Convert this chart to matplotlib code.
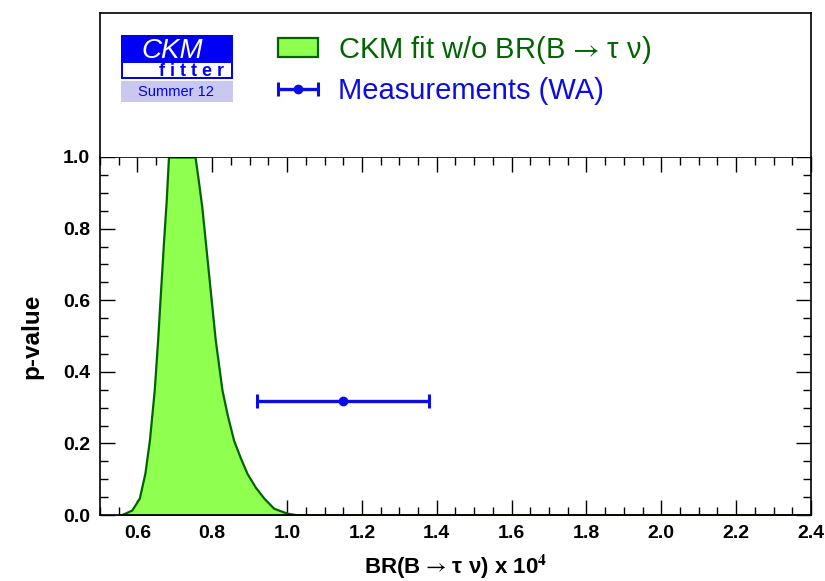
import matplotlib
matplotlib.use("Agg")
import matplotlib.pyplot as plt
from matplotlib.patches import Rectangle
from matplotlib.container import ErrorbarContainer
from matplotlib.legend_handler import HandlerErrorbar
from matplotlib.font_manager import FontProperties
from matplotlib.ticker import MultipleLocator

plt.rcParams['font.family'] = ['Liberation Sans', 'DejaVu Sans']
plt.rcParams['mathtext.fontset'] = 'stix'

# CKM fit p-value profile
br_fit = [0.55, 0.56, 0.585, 0.605, 0.62, 0.632, 0.645, 0.654, 0.662, 0.670,
          0.677, 0.683, 0.754, 0.762, 0.772, 0.790, 0.808, 0.826, 0.840, 0.857,
          0.875, 0.893, 0.915, 0.938, 0.964, 1.0, 1.03, 2.4]
pval_fit = [0.0, 0.002, 0.014, 0.047, 0.117, 0.209, 0.35, 0.489, 0.63, 0.768,
            0.88, 1.0, 1.0, 0.94, 0.861, 0.675, 0.489, 0.349, 0.28, 0.209,
            0.16, 0.116, 0.078, 0.047, 0.019, 0.005, 0.0, 0.0]

# world average measurement
meas_br = [1.15]
meas_err = [0.23]
meas_pval = [0.3173]

fit_label = r'CKM fit w/o BR(B$\,\rightarrow\,$τ ν)'
meas_label = 'Measurements (WA)'
x_label = r'BR(B$\,\rightarrow\,$τ ν) x 10$^{\mathbf{4}}$'

fill_col = '#8fff50'
line_col = '#006400'
blue = '#0c0ce8'
logo_blue = '#0000f5'

fig = plt.figure(figsize=(8.25, 5.81), dpi=100)
W, H = 825, 581
ax = fig.add_axes([100 / W, 66 / H, 711 / W, 358 / H])
top = fig.add_axes([100 / W, 424 / H, 711 / W, 144 / H])

fit = ax.fill_between(br_fit, pval_fit, color=fill_col, edgecolor=line_col,
                      linewidth=1.6, zorder=2)
meas = ax.errorbar(meas_br, meas_pval, xerr=meas_err, fmt='o', color=blue,
                   markersize=6, elinewidth=2.4, capsize=5, capthick=2.2,
                   zorder=3)

ax.set_xlim(0.5, 2.4)
ax.set_ylim(0, 1.0)
ax.xaxis.set_major_locator(MultipleLocator(0.2))
ax.xaxis.set_minor_locator(MultipleLocator(0.05))
ax.yaxis.set_major_locator(MultipleLocator(0.2))
ax.yaxis.set_minor_locator(MultipleLocator(0.05))
ax.tick_params(which='both', direction='in', top=True, right=True, width=1)
ax.tick_params(which='major', length=11, labelsize=14, pad=7)
ax.tick_params(which='minor', length=5.5)
ax.set_xticks(ax.get_xticks()[1:])
ax.set_xlim(0.5, 2.4)
for lab in ax.get_xticklabels() + ax.get_yticklabels():
    lab.set_fontweight('bold')
for s in ax.spines.values():
    s.set_linewidth(1.2)

ax.set_xlabel(x_label, fontsize=16, fontweight='bold', labelpad=8)
ax.set_ylabel('p-value', fontsize=17.5, fontweight='bold', labelpad=14)

# upper frame holding logo and legend (pixel coordinates)
top.set_xlim(100, 811)
top.set_ylim(157, 13)
top.set_xticks([])
top.set_yticks([])
top.spines['bottom'].set_visible(False)
for s in ['left', 'right', 'top']:
    top.spines[s].set_linewidth(1.2)

# CKMfitter logo
top.add_patch(Rectangle((121, 35), 112, 44, color=logo_blue, lw=0))
top.add_patch(Rectangle((123, 63), 108, 14, color='white', lw=0))
top.add_patch(Rectangle((121, 81), 112, 21, color='#c8c8f0', lw=0))
top.text(172, 57.5, 'CKM', color='white', fontsize=20, style='italic',
         ha='center', va='baseline')
top.text(224, 76.5, 'f i t t e r', color=logo_blue, fontsize=13,
         fontweight='bold', ha='right', va='baseline')
top.text(176, 92, 'Summer 12', color=logo_blue, fontsize=10.5,
         ha='center', va='center')

leg_font = FontProperties(family=['Liberation Sans', 'DejaVu Sans'], size=21,
                          math_fontfamily='stix')
leg = fig.legend([fit, meas], [fit_label, meas_label], loc='upper left',
                 bbox_to_anchor=(278 / W, 1 - 34 / H), frameon=False,
                 prop=leg_font, borderpad=0, borderaxespad=0,
                 handlelength=1.37, handleheight=0.65, handletextpad=0.68,
                 labelspacing=0.39, labelcolor=[line_col, blue],
                 handler_map={ErrorbarContainer: HandlerErrorbar(xerr_size=0.685)})

fig.savefig('out.png', dpi=100)
